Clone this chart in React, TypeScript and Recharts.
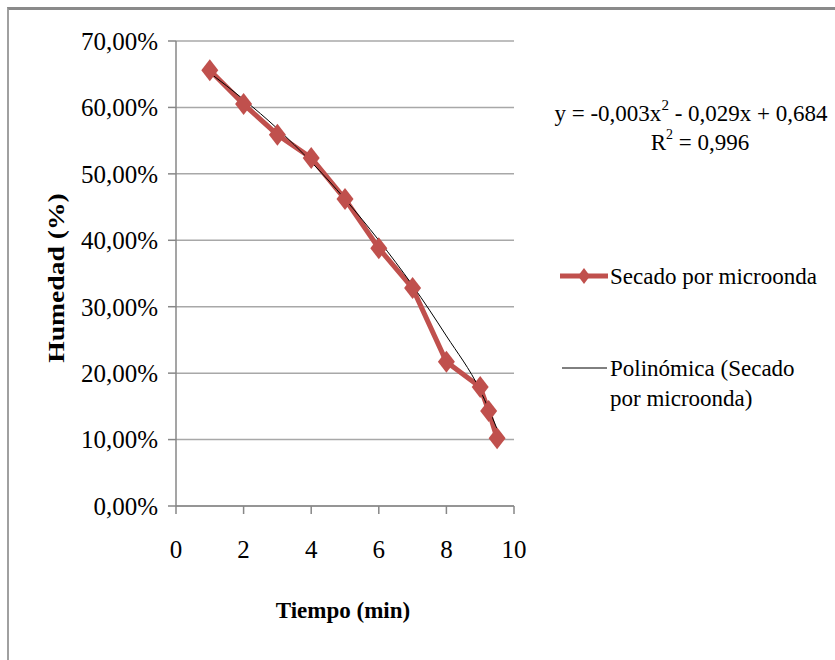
import { LineChart, Line, XAxis, YAxis, CartesianGrid } from "recharts";

// Datos
const tiempo = [1, 2, 3, 4, 5, 6, 7, 8, 9, 9.25, 9.5];
const humedad = [65.6, 60.5, 55.9, 52.4, 46.2, 38.8, 32.8, 21.7, 17.9, 14.3, 10.2];

// Línea de tendencia polinómica
const tiempoTendencia = [1, 2, 3, 4, 5, 6, 7, 8, 9, 9.5];
const humedadTendencia = [65.2, 61.2, 56.8, 51.8, 46.2, 40.0, 33.2, 25.6, 17.4, 11.6];

const yTicks = [0, 10, 20, 30, 40, 50, 60, 70];
const xTicks = [0, 2, 4, 6, 8, 10];

const ROJO = "#C0504D";
const GRIS = "#878787";
const FUENTE = "'Liberation Serif', 'Times New Roman', serif";

const secado = tiempo.map((t, i) => ({ x: t, y: humedad[i] }));
const tendencia = tiempoTendencia.map((t, i) => ({ x: t, y: humedadTendencia[i] }));

const formatoPct = (v: number) => `${v.toFixed(2).replace(".", ",")}%`;

const Diamante = (props: any) => {
  const { cx, cy, index } = props;
  if (cx == null || cy == null) return null;
  return (
    <polygon
      key={`d-${index}`}
      points={`${cx},${cy - 11} ${cx + 8.5},${cy} ${cx},${cy + 11} ${cx - 8.5},${cy}`}
      fill={ROJO}
    />
  );
};

export default function App() {
  return (
    <div style={{ position: "fixed", left: 0, top: 0, width: 835, height: 660, background: "#fff", overflow: "hidden", fontFamily: FUENTE }}>
      {/* marco */}
      <div
        style={{
          position: "absolute",
          left: 7,
          top: 7,
          width: 900,
          height: 700,
          borderTop: "3px solid #8a8a8a",
          borderLeft: "2px solid #a0a0a0",
        }}
      />
      <div style={{ position: "absolute", left: 0, top: 0 }}>
        <LineChart width={835} height={660} margin={{ top: 41, right: 321, bottom: 114, left: 76 }}>
          <CartesianGrid vertical={false} stroke="#a8a8a8" strokeWidth={1.5} />
          <XAxis
            type="number"
            dataKey="x"
            domain={[0, 10]}
            ticks={xTicks}
            allowDataOverflow
            height={40}
            stroke={GRIS}
            strokeWidth={1.5}
            tickSize={8}
            tickMargin={26}
            tick={{ fill: "#000", fontSize: 25, fontFamily: FUENTE }}
          />
          <YAxis
            type="number"
            dataKey="y"
            domain={[0, 70]}
            ticks={yTicks}
            width={100}
            stroke={GRIS}
            strokeWidth={1.5}
            tickSize={8}
            tickMargin={10}
            tickFormatter={formatoPct}
            tick={{ fill: "#000", fontSize: 25, fontFamily: FUENTE }}
          />
          <Line
            data={secado}
            dataKey="y"
            type="linear"
            stroke={ROJO}
            strokeWidth={5}
            dot={<Diamante />}
            activeDot={false}
            isAnimationActive={false}
          />
          <Line
            data={tendencia}
            dataKey="y"
            type="monotone"
            stroke="#000"
            strokeWidth={1}
            dot={false}
            activeDot={false}
            isAnimationActive={false}
          />
        </LineChart>
      </div>

      {/* títulos de ejes */}
      <svg width={835} height={660} style={{ position: "absolute", left: 0, top: 0, pointerEvents: "none" }}>
        <text
          x={343}
          y={610}
          textAnchor="middle"
          dominantBaseline="central"
          fontFamily={FUENTE}
          fontWeight="bold"
          fontSize={23}
          fill="#000"
        >
          Tiempo (min)
        </text>
        <text
          transform="translate(56,278) rotate(-90) scale(1.2,1)"
          textAnchor="middle"
          dominantBaseline="central"
          fontFamily={FUENTE}
          fontWeight="bold"
          fontSize={23}
          fill="#000"
        >
          Humedad (%)
        </text>

        {/* ecuación de la tendencia */}
        <text x={691} y={113} textAnchor="middle" dominantBaseline="central" fontFamily={FUENTE} fontSize={23} fill="#000">
          y = -0,003x<tspan dy={-8} fontSize={15}>2</tspan>
          <tspan dy={8}> - 0,029x + 0,684</tspan>
        </text>
        <text x={700} y={142} textAnchor="middle" dominantBaseline="central" fontFamily={FUENTE} fontSize={23} fill="#000">
          R<tspan dy={-8} fontSize={14}>2</tspan>
          <tspan dy={8}> = 0,996</tspan>
        </text>

        {/* leyenda */}
        <line x1={560} y1={276} x2={608} y2={276} stroke={ROJO} strokeWidth={5} />
        <polygon points="584,268 590,276 584,284 578,276" fill={ROJO} />
        <text x={610} y={276} dominantBaseline="central" fontFamily={FUENTE} fontSize={23} fill="#000">
          Secado por microonda
        </text>
        <line x1={562} y1={368} x2={607} y2={368} stroke="#000" strokeWidth={1} />
        <text x={610} y={368} dominantBaseline="central" fontFamily={FUENTE} fontSize={23} fill="#000">
          Polinómica (Secado
        </text>
        <text x={610} y={398} dominantBaseline="central" fontFamily={FUENTE} fontSize={23} fill="#000">
          por microonda)
        </text>
      </svg>
    </div>
  );
}
